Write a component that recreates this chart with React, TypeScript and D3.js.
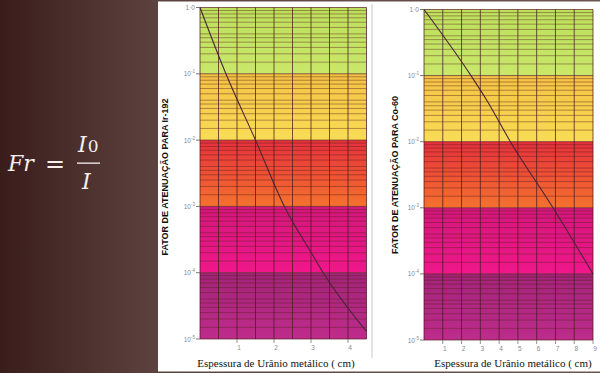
import React, { useEffect, useRef } from 'react';
import * as d3 from 'd3';

// decades on the attenuation axis
const decades = [1, 1e-1, 1e-2, 1e-3, 1e-4, 1e-5];
const decadeLabels = [
  { base: '1·0', exp: '' },
  { base: '10', exp: '-1' },
  { base: '10', exp: '-2' },
  { base: '10', exp: '-3' },
  { base: '10', exp: '-4' },
  { base: '10', exp: '-5' },
];
// minor lines inside each decade (multiples of the lower decade)
const minorSteps = [1.5, 2, 2.5, 3, 3.5, 4, 5, 6, 7, 8, 9];

// colour bands, top and bottom of each decade
const bandTop = ['#bde05c', '#f4c244', '#e6303c', '#d4177c', '#a22478'];
const bandBottom = ['#c9e76a', '#f9dc56', '#f4722e', '#f0178a', '#be2c8c'];

// Ir-192 curve
const irThickness = [0, 0.7, 1.5, 2.28, 3.02, 3.33, 4.5];
const irFactor = [1, 0.1, 0.01, 0.001, 1.95e-4, 1e-4, 1.3e-5];
const irTicks = [1, 2, 3, 4];

// Co-60 curve
const coThickness = [0, 2.5, 3.35, 4.6, 6.87, 9];
const coFactor = [1, 0.1, 0.042, 0.01, 0.001, 1e-4];
const coTicks = [1, 2, 3, 4, 5, 6, 7, 8, 9];

const yTitles = ['FATOR DE ATENUAÇÃO PARA Ir-192', 'FATOR DE ATENUAÇÃO PARA  Co-60'];
const xTitle = 'Espessura de Urânio metálico ( cm)';

export default function App() {
  const svgRef = useRef<SVGSVGElement>(null);

  useEffect(() => {
    if (!svgRef.current) return;
    const svg = d3.select(svgRef.current);
    svg.selectAll('*').remove();

    const defs = svg.append('defs');
    const bg = defs.append('linearGradient').attr('id', 'bg').attr('x1', 0).attr('x2', 1).attr('y1', 0).attr('y2', 0);
    bg.append('stop').attr('offset', '0%').attr('stop-color', '#3a1d1b');
    bg.append('stop').attr('offset', '26%').attr('stop-color', '#5c423e');
    bg.append('stop').attr('offset', '100%').attr('stop-color', '#6e5550');

    bandTop.forEach((c, i) => {
      const g = defs.append('linearGradient').attr('id', `band${i}`).attr('x1', 0).attr('x2', 0).attr('y1', 0).attr('y2', 1);
      g.append('stop').attr('offset', '0%').attr('stop-color', c);
      g.append('stop').attr('offset', '100%').attr('stop-color', bandBottom[i]);
    });

    svg.append('rect').attr('width', 600).attr('height', 373).attr('fill', 'url(#bg)');
    svg.append('rect').attr('x', 158).attr('y', 1.5).attr('width', 442).attr('height', 370).attr('fill', '#ffffff');

    // formula
    const f = svg.append('g').attr('fill', '#f6efee').attr('font-family', '"DejaVu Serif", "Liberation Serif", serif').attr('font-style', 'italic');
    f.append('text').attr('x', 8).attr('y', 171).attr('font-size', 22).text('Fr');
    f.append('text').attr('x', 45).attr('y', 172).attr('font-size', 24).attr('font-style', 'normal').text('=');
    const num = f.append('text').attr('x', 78).attr('y', 152).attr('font-size', 22);
    num.append('tspan').text('I');
    num.append('tspan').attr('font-style', 'normal').attr('font-size', 17).attr('dx', 1).text('0');
    f.append('rect').attr('x', 77).attr('y', 162.5).attr('width', 23).attr('height', 1.3);
    f.append('text').attr('x', 82).attr('y', 189).attr('font-size', 22).text('I');

    // divider between the two charts
    svg.append('line').attr('x1', 372).attr('x2', 372).attr('y1', 4).attr('y2', 358)
      .attr('stroke', '#c8c8c8').attr('stroke-width', 1);

    const charts = [
      { x0: 200, x1: 366.5, y0: 7.5, y1: 339, max: 4.5, step: 0.5, ticks: irTicks, xs: irThickness, ys: irFactor, title: yTitles[0], titleX: 168, titleY: 177, xTitleX: 276 },
      { x0: 424, x1: 593, y0: 9.5, y1: 340, max: 9, step: 1, ticks: coTicks, xs: coThickness, ys: coFactor, title: yTitles[1], titleX: 398, titleY: 175, xTitleX: 513 },
    ];

    charts.forEach(c => {
      const x = d3.scaleLinear().domain([0, c.max]).range([c.x0, c.x1]);
      const y = d3.scaleLog().domain([1, 1e-5]).range([c.y0, c.y1]);
      const g = svg.append('g');

      // colour bands
      decades.slice(0, -1).forEach((d, i) => {
        g.append('rect')
          .attr('x', x(0)).attr('width', x(c.max) - x(0))
          .attr('y', y(d)).attr('height', y(d / 10) - y(d))
          .attr('fill', `url(#band${i})`);
      });

      // horizontal grid
      const minor: number[] = [];
      decades.slice(1).forEach(d => minorSteps.forEach(m => minor.push(d * m)));
      g.selectAll('.hgrid').data(minor).enter().append('line')
        .attr('x1', x(0)).attr('x2', x(c.max))
        .attr('y1', d => y(d)).attr('y2', d => y(d))
        .attr('stroke', '#5a2020').attr('stroke-opacity', 0.55).attr('stroke-width', 0.8);
      g.selectAll('.dgrid').data(decades).enter().append('line')
        .attr('x1', x(0)).attr('x2', x(c.max))
        .attr('y1', d => y(d)).attr('y2', d => y(d))
        .attr('stroke', '#5a2020').attr('stroke-opacity', 0.7).attr('stroke-width', 1);

      // vertical grid
      const vlines = d3.range(0, c.max + 0.001, c.step);
      g.selectAll('.vgrid').data(vlines).enter().append('line')
        .attr('x1', d => x(d)).attr('x2', d => x(d))
        .attr('y1', y(1)).attr('y2', y(1e-5))
        .attr('stroke', '#4a1c22').attr('stroke-opacity', 0.75).attr('stroke-width', 1);

      // attenuation curve
      const pts = c.xs.map((t, i) => [x(t), y(c.ys[i])] as [number, number]);
      g.append('path')
        .attr('d', d3.line().curve(d3.curveMonotoneX)(pts) || '')
        .attr('fill', 'none').attr('stroke', '#4a2436').attr('stroke-width', 1.1);

      // y ticks and labels
      decades.forEach((d, i) => {
        g.append('line').attr('x1', x(0) - 4).attr('x2', x(0)).attr('y1', y(d)).attr('y2', y(d))
          .attr('stroke', '#555').attr('stroke-width', 0.8);
        const t = g.append('text').attr('x', x(0) - 5).attr('y', y(d) + 2.5)
          .attr('text-anchor', 'end').attr('font-family', '"Liberation Sans", Arial, sans-serif')
          .attr('font-size', 6.5).attr('fill', '#8a8a8a');
        t.append('tspan').text(decadeLabels[i].base);
        if (decadeLabels[i].exp) t.append('tspan').attr('dy', -3).attr('font-size', 4.5).text(decadeLabels[i].exp);
      });

      // x ticks and labels
      c.ticks.forEach(v => {
        g.append('line').attr('x1', x(v)).attr('x2', x(v)).attr('y1', y(1e-5)).attr('y2', y(1e-5) + 4)
          .attr('stroke', '#777').attr('stroke-width', 0.8);
        g.append('text').attr('x', x(v) + 2).attr('y', y(1e-5) + 11)
          .attr('text-anchor', 'middle').attr('font-family', '"Liberation Sans", Arial, sans-serif')
          .attr('font-size', 6.5).attr('fill', '#8a8a8a').text(v);
      });

      // titles
      g.append('text')
        .attr('transform', `translate(${c.titleX},${c.titleY}) rotate(-90)`)
        .attr('text-anchor', 'middle').attr('font-family', '"Liberation Sans", Arial, sans-serif')
        .attr('font-weight', 'bold').attr('font-size', 9).attr('fill', '#111').text(c.title);
      g.append('text').attr('x', c.xTitleX).attr('y', 367)
        .attr('text-anchor', 'middle').attr('font-family', '"Liberation Serif", "Times New Roman", serif')
        .attr('font-size', 11).attr('fill', '#111').text(xTitle);
    });
  }, []);

  return (
    <svg ref={svgRef} width={600} height={373} style={{ position: 'absolute', left: 0, top: 0, display: 'block' }} />
  );
}
